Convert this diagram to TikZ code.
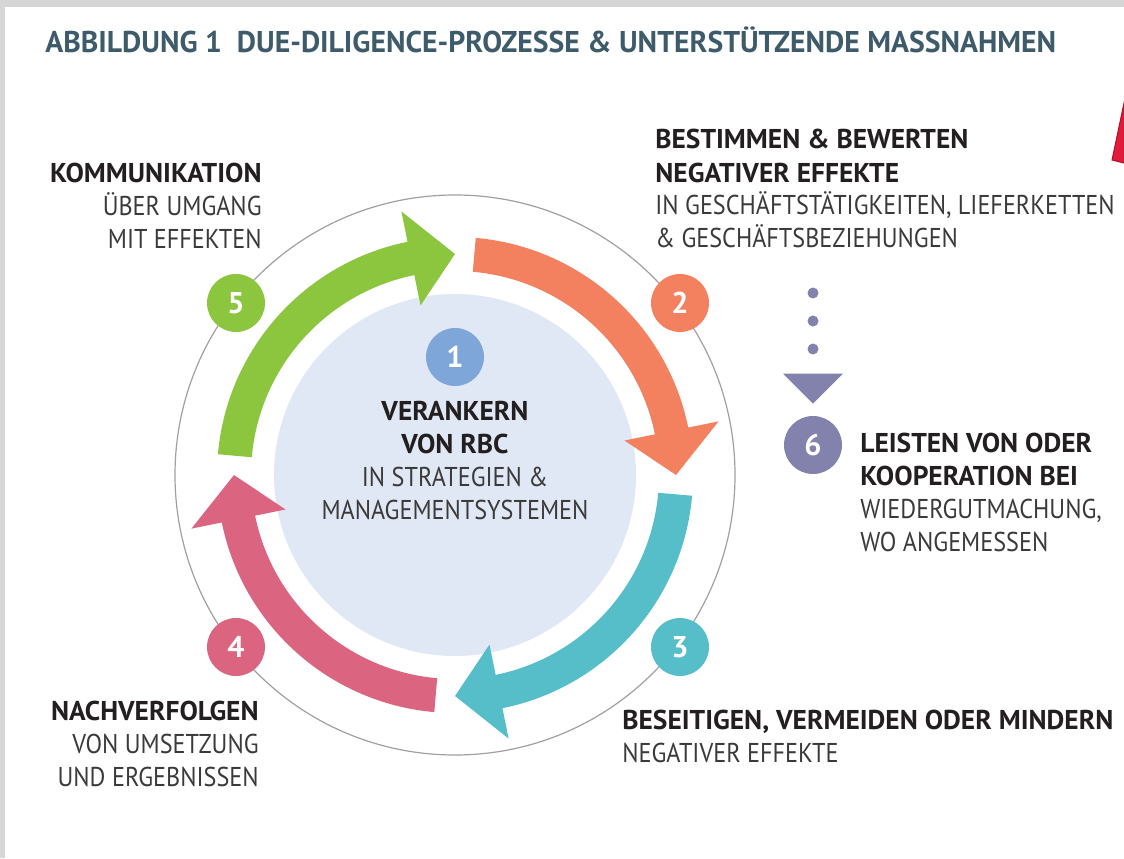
\documentclass[tikz,border=0pt]{standalone}
\usepackage{fontspec}
\setmainfont{PT Sans}[FakeStretch=0.89]
\newfontfamily\boldfam{PT Sans}[FakeStretch=1.01]
\newfontfamily\titlefam{PT Sans}[FakeStretch=0.99]
\usepackage{tikz}
\usetikzlibrary{arrows.meta}
\usetikzlibrary{positioning}
\definecolor{framegray}{HTML}{D6D6D6}
\definecolor{titleblue}{HTML}{3E5B6B}
\definecolor{darktext}{HTML}{231F20}
\definecolor{lighttext}{HTML}{3A3A3A}
\definecolor{ringgray}{HTML}{A0A0A0}
\definecolor{coreblue}{HTML}{E1E8F5}
\definecolor{oneblue}{HTML}{7EA6D8}
\definecolor{grn}{HTML}{8CC63F}
\definecolor{org}{HTML}{F3805E}
\definecolor{tea}{HTML}{56BEC8}
\definecolor{pnk}{HTML}{DB6580}
\definecolor{purp}{HTML}{8282AC}
\definecolor{alertred}{HTML}{E31B3A}
\definecolor{alertdark}{HTML}{A8142A}
\tikzstyle{headline} = [anchor=base west, inner sep=0pt, text=titleblue, font=\titlefam\fontsize{15}{18}\selectfont\bfseries]
\tikzstyle{textright} = [anchor=base east, align=right, inner sep=0pt, text=lighttext, font=\fontsize{13.6}{16.5}\selectfont]
\tikzstyle{textleft} = [anchor=base west, align=left, inner sep=0pt, text=lighttext, font=\fontsize{13.6}{16.5}\selectfont]
\tikzstyle{textmid} = [anchor=base, align=center, inner sep=0pt, text=lighttext, font=\fontsize{13.6}{16.5}\selectfont]
\tikzstyle{numcircle} = [circle, minimum size=29pt, inner sep=0pt, text=white, font=\boldfam\fontsize{15}{18}\selectfont\bfseries]
\tikzstyle{dotline} = [draw=purp, line width=5.5pt, line cap=round, dash pattern=on 0pt off 14pt, -{Triangle[width=30pt, length=15pt, line width=0pt]}, shorten >=6pt]
\newcommand{\hd}[1]{\textcolor{darktext}{\boldfam\bfseries #1}}

\begin{document}
\begin{tikzpicture}[x=0.5pt, y=0.5pt]

        \useasboundingbox (0,0) rectangle (1124,858);
        \fill[framegray] (0,0) rectangle (1124,858);
        \fill[white] (5,0) rectangle (1124,851);

        % Title
        \node (title) [headline] at (45,805) {ABBILDUNG 1\ \ DUE-DILIGENCE-PROZESSE \& UNTERSTÜTZENDE MASSNAHMEN};

        % Ring and core
        \coordinate (c) at (455,383);
        \draw[ringgray, line width=0.6pt] (c) circle[radius=280];
        \node (core) [circle, fill=coreblue, minimum size=181pt, inner sep=0pt] at (c) {};

        % Arrows
        \begin{scope}[shift={(455,383)}]
        \fill[grn] (175:238) arc[start angle=175, end angle=101.5, radius=238] -- (101.5:269) -- (90:221) -- (101.5:173) -- (101.5:204) arc[start angle=101.5, end angle=175, radius=204] -- cycle;
        \fill[org] (85:238) arc[start angle=85, end angle=11.5, radius=238] -- (11.5:269) -- (0:221) -- (11.5:173) -- (11.5:204) arc[start angle=11.5, end angle=85, radius=204] -- cycle;
        \fill[tea] (-5:238) arc[start angle=-5, end angle=-78.5, radius=238] -- (-78.5:269) -- (-90:221) -- (-78.5:173) -- (-78.5:204) arc[start angle=-78.5, end angle=-5, radius=204] -- cycle;
        \fill[pnk] (-95:238) arc[start angle=-95, end angle=-168.5, radius=238] -- (-168.5:269) -- (-180:221) -- (-168.5:173) -- (-168.5:204) arc[start angle=-168.5, end angle=-95, radius=204] -- cycle;
        \end{scope}

        % Numbers
        \node (one) [numcircle, fill=oneblue] at (455,501) {1};
        \node (two) [numcircle, fill=org] at (680,555) {2};
        \node (three) [numcircle, fill=tea] at (680,211) {3};
        \node (four) [numcircle, fill=pnk] at (236,211) {4};
        \node (five) [numcircle, fill=grn] at (236,555) {5};
        \node (six) [numcircle, fill=purp] at (813,413) {6};

        % Dotted arrow to 6
        \coordinate (dotstart) at (813,565);
        \draw [dotline] (dotstart) -- (six);

        % Texts (anchored at the last line)
        \node (tcore) [textmid] at (455,339) {\hd{VERANKERN}\\ \hd{VON RBC}\\ IN STRATEGIEN \&\\ MANAGEMENTSYSTEMEN};
        \node (ttwo) [textleft] at (655,610) {\hd{BESTIMMEN \& BEWERTEN}\\ \hd{NEGATIVER EFFEKTE}\\ IN GESCHÄFTSTÄTIGKEITEN, LIEFERKETTEN\\ \& GESCHÄFTSBEZIEHUNGEN};
        \node (tthree) [textleft] at (622,96) {\hd{BESEITIGEN, VERMEIDEN ODER MINDERN}\\ NEGATIVER EFFEKTE};
        \node (tfour) [textright] at (259,72) {\hd{NACHVERFOLGEN}\\ VON UMSETZUNG\\ UND ERGEBNISSEN};
        \node (tfive) [textright] at (262,609) {\hd{KOMMUNIKATION}\\ ÜBER UMGANG\\ MIT EFFEKTEN};
        \node (tsix) [textleft] at (860,307) {\hd{LEISTEN VON ODER}\\ \hd{KOOPERATION BEI}\\ WIEDERGUTMACHUNG,\\ WO ANGEMESSEN};

        % Red marker at the edge
        \filldraw[fill=alertred, draw=alertdark, line width=0.5pt] (1112,698) -- (1124,755) -- (1124,695) -- cycle;

    \end{tikzpicture}
\end{document}
